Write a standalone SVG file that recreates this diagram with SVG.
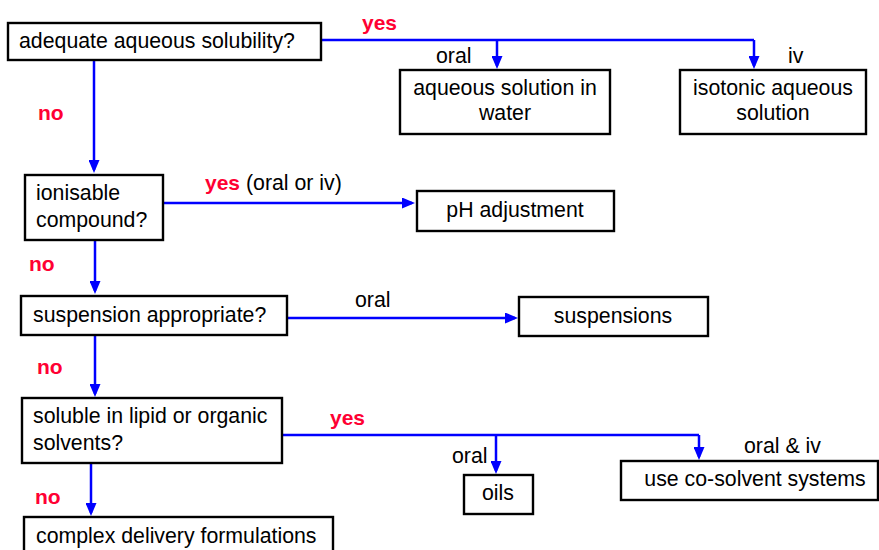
<svg xmlns="http://www.w3.org/2000/svg" width="879" height="550" viewBox="0 0 879 550">
<defs>
<marker id="ah" markerUnits="userSpaceOnUse" markerWidth="13" markerHeight="11" refX="10" refY="5.5" orient="auto">
<path d="M0,0 L13,5.5 L0,11 z" fill="#0000ff"/>
</marker>
<style>
.box{fill:#fff;stroke:#000;stroke-width:2.4}
.t{font-family:"Liberation Sans",Arial,sans-serif;font-size:21.3px;fill:#000}
.c{text-anchor:middle}
.r{font-family:"Liberation Sans",Arial,sans-serif;font-size:21px;font-weight:bold;fill:#ff0033}
.ln{fill:none;stroke:#0000ff;stroke-width:2.5}
.arr{marker-end:url(#ah)}
</style>
</defs>
<rect width="879" height="550" fill="#fff"/>
<g id="connectors">
<path class="ln" d="M321,40 H754"/>
<path class="ln arr" d="M497,40 V66"/>
<path class="ln arr" d="M754,40 V66"/>
<path class="ln arr" d="M94,60 V170"/>
<path class="ln arr" d="M163,203 H412"/>
<path class="ln arr" d="M95,240 V291"/>
<path class="ln arr" d="M287,318 H515"/>
<path class="ln arr" d="M95,335 V394"/>
<path class="ln" d="M282,435 H699"/>
<path class="ln arr" d="M496,435 V471"/>
<path class="ln arr" d="M699,435 V457"/>
<path class="ln arr" d="M91,463 V513"/>
</g>
<g id="labels">
<text class="r" x="362" y="30">yes</text>
<text class="t" x="436" y="63">oral</text>
<text class="t" x="788" y="63">iv</text>
<text class="r" x="38" y="120">no</text>
<text class="t" x="205" y="190"><tspan class="r">yes</tspan> (oral or iv)</text>
<text class="r" x="29" y="271">no</text>
<text class="t" x="355" y="307">oral</text>
<text class="r" x="37" y="374">no</text>
<text class="r" x="330" y="425">yes</text>
<text class="t" x="452" y="463">oral</text>
<text class="t" x="744" y="453">oral &amp; iv</text>
<text class="r" x="35" y="504">no</text>
</g>
<g id="n-solubility">
<rect class="box" x="8" y="23" width="313" height="37"/>
<text class="t" x="19" y="48">adequate aqueous solubility?</text>
</g>
<g id="n-aqueous">
<rect class="box" x="400" y="70" width="210" height="64"/>
<text class="t c" x="505" y="95">aqueous solution in</text>
<text class="t c" x="505" y="120">water</text>
</g>
<g id="n-isotonic">
<rect class="box" x="680" y="70" width="186" height="64"/>
<text class="t c" x="773" y="95">isotonic aqueous</text>
<text class="t c" x="773" y="120">solution</text>
</g>
<g id="n-ionisable">
<rect class="box" x="25" y="175" width="138" height="65"/>
<text class="t" x="36" y="200">ionisable</text>
<text class="t" x="36" y="227">compound?</text>
</g>
<g id="n-ph">
<rect class="box" x="417" y="191" width="197" height="40"/>
<text class="t c" x="515" y="217">pH adjustment</text>
</g>
<g id="n-suspension">
<rect class="box" x="21" y="296" width="266" height="39"/>
<text class="t" x="33" y="322">suspension appropriate?</text>
</g>
<g id="n-suspensions">
<rect class="box" x="519" y="297" width="189" height="39"/>
<text class="t c" x="613" y="323">suspensions</text>
</g>
<g id="n-lipid">
<rect class="box" x="22" y="398" width="260" height="65"/>
<text class="t" x="33" y="423">soluble in lipid or organic</text>
<text class="t" x="33" y="450">solvents?</text>
</g>
<g id="n-oils">
<rect class="box" x="464" y="475" width="69" height="39"/>
<text class="t c" x="498" y="500">oils</text>
</g>
<g id="n-cosolvent">
<rect class="box" x="621" y="461" width="257" height="39"/>
<text class="t c" x="755" y="486">use co-solvent systems</text>
</g>
<g id="n-complex">
<rect class="box" x="24" y="517" width="309" height="40"/>
<text class="t" x="36" y="543">complex delivery formulations</text>
</g>
</svg>
